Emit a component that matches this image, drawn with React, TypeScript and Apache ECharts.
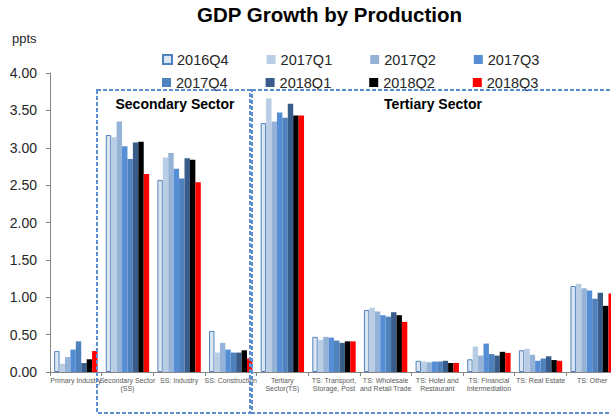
import React, { useEffect, useRef } from "react";
import * as echarts from "echarts";

const categories = [
  "Primary Industry",
  "Secondary Sector\n(SS)",
  "SS: Industry",
  "SS: Construction",
  "Tertiary\nSector(TS)",
  "TS: Transport,\nStorage, Post",
  "TS: Wholesale\nand Retail Trade",
  "TS: Hotel and\nRestaurant",
  "TS: Financial\nIntermediation",
  "TS: Real Estate",
  "TS: Other",
];

const seriesNames = ["2016Q4", "2017Q1", "2017Q2", "2017Q3", "2017Q4", "2018Q1", "2018Q2", "2018Q3"];

const q2016Q4 = [0.28, 3.17, 2.57, 0.55, 3.33, 0.47, 0.83, 0.15, 0.17, 0.29, 1.15];
const q2017Q1 = [0.11, 3.14, 2.87, 0.26, 3.66, 0.43, 0.86, 0.14, 0.34, 0.31, 1.18];
const q2017Q2 = [0.2, 3.35, 2.93, 0.39, 3.35, 0.47, 0.81, 0.13, 0.22, 0.23, 1.12];
const q2017Q3 = [0.3, 3.02, 2.72, 0.3, 3.47, 0.46, 0.76, 0.14, 0.38, 0.15, 1.09];
const q2017Q4 = [0.41, 2.85, 2.59, 0.26, 3.4, 0.42, 0.74, 0.14, 0.24, 0.18, 0.98];
const q2018Q1 = [0.12, 3.07, 2.86, 0.26, 3.59, 0.39, 0.8, 0.15, 0.22, 0.21, 1.06];
const q2018Q2 = [0.17, 3.08, 2.84, 0.29, 3.43, 0.41, 0.76, 0.12, 0.27, 0.16, 0.885];
const q2018Q3 = [0.28, 2.65, 2.54, 0.18, 3.43, 0.41, 0.67, 0.12, 0.255, 0.15, 1.05];

const seriesData = [q2016Q4, q2017Q1, q2017Q2, q2017Q3, q2017Q4, q2018Q1, q2018Q2, q2018Q3];
const seriesColors = ["#dce6f2", "#b9cde5", "#95b3d7", "#558ed5", "#4f81bd", "#385d8a", "#000000", "#ff0000"];

const yMin = 0;
const yMax = 4;
const yInterval = 0.5;

export default function App() {
  const ref = useRef<HTMLDivElement>(null);

  useEffect(() => {
    if (!ref.current) return;
    const chart = echarts.init(ref.current, null, { renderer: "svg" });
    const font = "'Liberation Sans', Arial, sans-serif";
    const dashColor = "#5b8fd0";

    const legendCommon = {
      icon: "rect",
      itemWidth: 9,
      itemHeight: 9,
      itemGap: 38,
      left: 157,
      textStyle: { fontFamily: font, fontSize: 14.5, color: "#262626" },
      selectedMode: false,
    };

    chart.setOption({
      animation: false,
      backgroundColor: "#ffffff",
      legend: [
        { ...legendCommon, top: 47, data: seriesNames.slice(0, 4) },
        { ...legendCommon, top: 70, data: seriesNames.slice(4, 8) },
      ],
      grid: { left: 50, right: 0, top: 73, bottom: 44, containLabel: false },
      xAxis: {
        type: "category",
        data: categories,
        axisLine: { show: true, lineStyle: { color: "#868686", width: 1 } },
        axisTick: { show: true, length: 4, interval: 0, lineStyle: { color: "#868686" } },
        axisLabel: {
          interval: 0,
          fontFamily: font,
          fontSize: 7,
          lineHeight: 8,
          color: "#595959",
          margin: 4,
          hideOverlap: false,
        },
      },
      yAxis: {
        type: "value",
        min: yMin,
        max: yMax,
        interval: yInterval,
        axisLine: { show: true, lineStyle: { color: "#868686", width: 1 } },
        axisTick: { show: true, length: 4, lineStyle: { color: "#868686" } },
        splitLine: { show: false },
        axisLabel: {
          fontFamily: font,
          fontSize: 14,
          color: "#262626",
          margin: 13,
          formatter: (v: number) => v.toFixed(2),
        },
      },
      series: seriesNames.map((name, i) => ({
        name,
        type: "bar",
        data: seriesData[i],
        barGap: "0%",
        barCategoryGap: "16%",
        itemStyle:
          i === 0
            ? { color: seriesColors[i], borderColor: "#4f81bd", borderWidth: 1 }
            : { color: seriesColors[i] },
      })),
      graphic: [
        {
          type: "text",
          left: 331 - 134,
          top: 4,
          style: {
            text: "GDP Growth by Production",
            fontFamily: font,
            fontSize: 20.5,
            fontWeight: "bold",
            fill: "#000000",
          },
        },
        {
          type: "text",
          left: 12,
          top: 32,
          style: { text: "ppts", fontFamily: font, fontSize: 13, fill: "#262626" },
        },
        {
          type: "rect",
          z: 100,
          shape: { x: 97, y: 90, width: 153, height: 323 },
          style: { fill: "none", stroke: dashColor, lineWidth: 2, lineDash: [4, 2] },
        },
        {
          type: "rect",
          z: 100,
          shape: { x: 252, y: 90, width: 380, height: 323 },
          style: { fill: "none", stroke: dashColor, lineWidth: 2, lineDash: [4, 2] },
        },
        {
          type: "text",
          z: 100,
          x: 175,
          y: 104,
          style: {
            text: "Secondary Sector",
            fontFamily: font,
            fontSize: 14,
            fontWeight: "bold",
            fill: "#000000",
            align: "center",
            verticalAlign: "middle",
          },
        },
        {
          type: "text",
          z: 100,
          x: 433,
          y: 104,
          style: {
            text: "Tertiary Sector",
            fontFamily: font,
            fontSize: 14,
            fontWeight: "bold",
            fill: "#000000",
            align: "center",
            verticalAlign: "middle",
          },
        },
      ],
    });

    return () => chart.dispose();
  }, []);

  return (
    <div
      style={{ position: "fixed", left: 0, top: 0, width: 611, height: 416, overflow: "hidden", background: "#fff" }}
    >
      <div ref={ref} style={{ width: 618, height: 416 }} />
    </div>
  );
}
